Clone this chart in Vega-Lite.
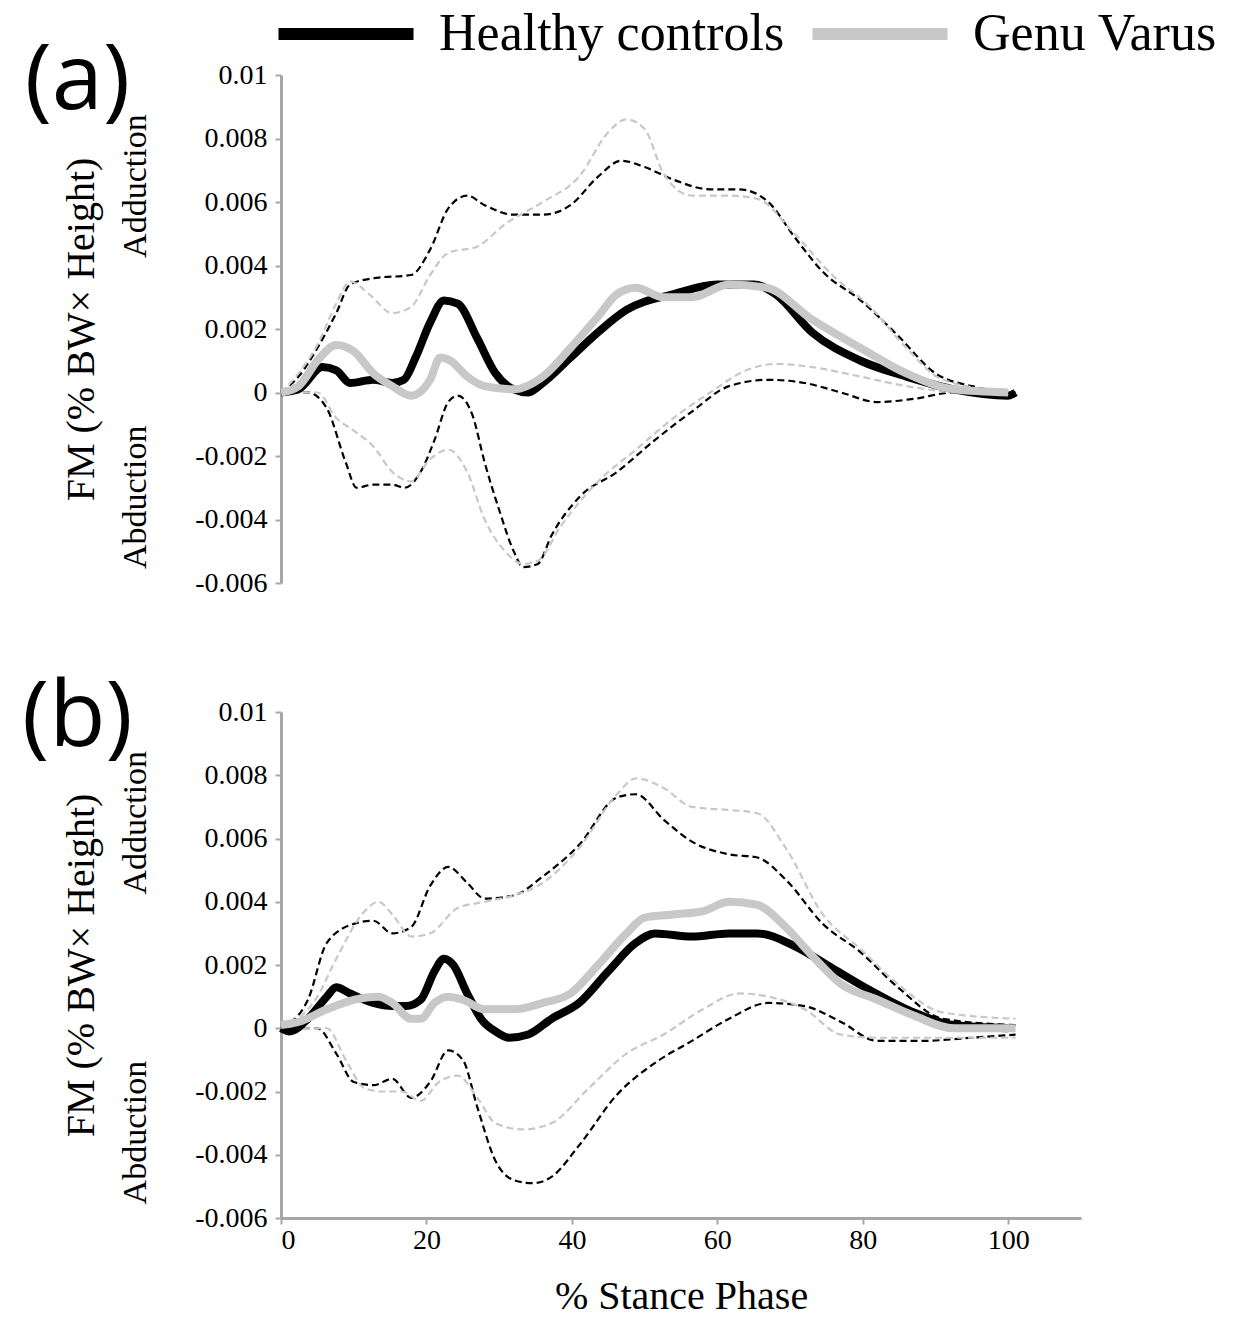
{
  "$schema": "https://vega.github.io/schema/vega-lite/v6.json",
  "padding": {"left": 22, "top": 8, "right": 5, "bottom": 5},
  "background": "white",
  "datasets": {
    "a": [
      {"g":"Healthy controls","s":"mean","x":0,"y":0},{"g":"Healthy controls","s":"mean","x":2.4,"y":0.0001},{"g":"Healthy controls","s":"mean","x":5.7,"y":0.0008},{"g":"Healthy controls","s":"mean","x":7.6,"y":0.0007},{"g":"Healthy controls","s":"mean","x":9.5,"y":0.0003},{"g":"Healthy controls","s":"mean","x":12.7,"y":0.0004},{"g":"Healthy controls","s":"mean","x":15.3,"y":0.0003},{"g":"Healthy controls","s":"mean","x":16.9,"y":0.0004},{"g":"Healthy controls","s":"mean","x":18.5,"y":0.0011},{"g":"Healthy controls","s":"mean","x":20.5,"y":0.0022},{"g":"Healthy controls","s":"mean","x":22.4,"y":0.0029},{"g":"Healthy controls","s":"mean","x":24.3,"y":0.0028},{"g":"Healthy controls","s":"mean","x":27,"y":0.0017},{"g":"Healthy controls","s":"mean","x":29.5,"y":0.0006},{"g":"Healthy controls","s":"mean","x":32,"y":0.0001},{"g":"Healthy controls","s":"mean","x":34,"y":0},{"g":"Healthy controls","s":"mean","x":36,"y":0.0003},{"g":"Healthy controls","s":"mean","x":39.8,"y":0.0011},{"g":"Healthy controls","s":"mean","x":43.6,"y":0.0019},{"g":"Healthy controls","s":"mean","x":47.5,"y":0.0026},{"g":"Healthy controls","s":"mean","x":54,"y":0.0031},{"g":"Healthy controls","s":"mean","x":60,"y":0.0034},{"g":"Healthy controls","s":"mean","x":65,"y":0.0034},{"g":"Healthy controls","s":"mean","x":68,"y":0.0031},{"g":"Healthy controls","s":"mean","x":73,"y":0.0019},{"g":"Healthy controls","s":"mean","x":79.7,"y":0.001},{"g":"Healthy controls","s":"mean","x":86,"y":0.0005},{"g":"Healthy controls","s":"mean","x":92.5,"y":0.0001},{"g":"Healthy controls","s":"mean","x":100,"y":-0.0001},{"g":"Healthy controls","s":"mean","x":101,"y":0},
      {"g":"Genu Varus","s":"mean","x":0,"y":0},{"g":"Genu Varus","s":"mean","x":2.4,"y":0.0002},{"g":"Genu Varus","s":"mean","x":5,"y":0.001},{"g":"Genu Varus","s":"mean","x":7.6,"y":0.0015},{"g":"Genu Varus","s":"mean","x":10,"y":0.0013},{"g":"Genu Varus","s":"mean","x":12.7,"y":0.0006},{"g":"Genu Varus","s":"mean","x":15.3,"y":0.0002},{"g":"Genu Varus","s":"mean","x":17.9,"y":-0.0001},{"g":"Genu Varus","s":"mean","x":20.5,"y":0.0004},{"g":"Genu Varus","s":"mean","x":21.9,"y":0.0011},{"g":"Genu Varus","s":"mean","x":23.3,"y":0.001},{"g":"Genu Varus","s":"mean","x":25.6,"y":0.0005},{"g":"Genu Varus","s":"mean","x":28,"y":0.0002},{"g":"Genu Varus","s":"mean","x":32,"y":0.0001},{"g":"Genu Varus","s":"mean","x":36,"y":0.0005},{"g":"Genu Varus","s":"mean","x":39.8,"y":0.0014},{"g":"Genu Varus","s":"mean","x":43.6,"y":0.0024},{"g":"Genu Varus","s":"mean","x":46.2,"y":0.0031},{"g":"Genu Varus","s":"mean","x":48.8,"y":0.0033},{"g":"Genu Varus","s":"mean","x":52.6,"y":0.003},{"g":"Genu Varus","s":"mean","x":56.5,"y":0.003},{"g":"Genu Varus","s":"mean","x":61.6,"y":0.0034},{"g":"Genu Varus","s":"mean","x":66.8,"y":0.0033},{"g":"Genu Varus","s":"mean","x":73,"y":0.0023},{"g":"Genu Varus","s":"mean","x":79.7,"y":0.0014},{"g":"Genu Varus","s":"mean","x":86,"y":0.0006},{"g":"Genu Varus","s":"mean","x":92.5,"y":0.0001},{"g":"Genu Varus","s":"mean","x":100,"y":0},
      {"g":"Healthy controls","s":"upper","x":0,"y":0},{"g":"Healthy controls","s":"upper","x":2.4,"y":0.0005},{"g":"Healthy controls","s":"upper","x":5,"y":0.0014},{"g":"Healthy controls","s":"upper","x":7.6,"y":0.0025},{"g":"Healthy controls","s":"upper","x":9.5,"y":0.0034},{"g":"Healthy controls","s":"upper","x":12.7,"y":0.0036},{"g":"Healthy controls","s":"upper","x":17.9,"y":0.0037},{"g":"Healthy controls","s":"upper","x":20.5,"y":0.0045},{"g":"Healthy controls","s":"upper","x":23,"y":0.0058},{"g":"Healthy controls","s":"upper","x":25.6,"y":0.0062},{"g":"Healthy controls","s":"upper","x":28,"y":0.0059},{"g":"Healthy controls","s":"upper","x":32,"y":0.0056},{"g":"Healthy controls","s":"upper","x":36,"y":0.0056},{"g":"Healthy controls","s":"upper","x":39.8,"y":0.0059},{"g":"Healthy controls","s":"upper","x":43.6,"y":0.0068},{"g":"Healthy controls","s":"upper","x":46.8,"y":0.0073},{"g":"Healthy controls","s":"upper","x":50,"y":0.0071},{"g":"Healthy controls","s":"upper","x":54,"y":0.0067},{"g":"Healthy controls","s":"upper","x":59,"y":0.0064},{"g":"Healthy controls","s":"upper","x":63,"y":0.0064},{"g":"Healthy controls","s":"upper","x":67,"y":0.006},{"g":"Healthy controls","s":"upper","x":70.6,"y":0.0049},{"g":"Healthy controls","s":"upper","x":74.5,"y":0.0038},{"g":"Healthy controls","s":"upper","x":79.7,"y":0.0029},{"g":"Healthy controls","s":"upper","x":84.8,"y":0.0018},{"g":"Healthy controls","s":"upper","x":90,"y":0.0006},{"g":"Healthy controls","s":"upper","x":95,"y":0.0002},{"g":"Healthy controls","s":"upper","x":101,"y":0},
      {"g":"Healthy controls","s":"lower","x":0,"y":0},{"g":"Healthy controls","s":"lower","x":3.7,"y":0},{"g":"Healthy controls","s":"lower","x":6.3,"y":-0.0005},{"g":"Healthy controls","s":"lower","x":8.9,"y":-0.0022},{"g":"Healthy controls","s":"lower","x":10.4,"y":-0.003},{"g":"Healthy controls","s":"lower","x":12.7,"y":-0.0029},{"g":"Healthy controls","s":"lower","x":15.3,"y":-0.0029},{"g":"Healthy controls","s":"lower","x":17,"y":-0.003},{"g":"Healthy controls","s":"lower","x":19.2,"y":-0.0025},{"g":"Healthy controls","s":"lower","x":21.1,"y":-0.0015},{"g":"Healthy controls","s":"lower","x":23,"y":-0.0003},{"g":"Healthy controls","s":"lower","x":24.3,"y":-0.0001},{"g":"Healthy controls","s":"lower","x":26.3,"y":-0.0007},{"g":"Healthy controls","s":"lower","x":28,"y":-0.0022},{"g":"Healthy controls","s":"lower","x":30,"y":-0.0037},{"g":"Healthy controls","s":"lower","x":32,"y":-0.005},{"g":"Healthy controls","s":"lower","x":33.3,"y":-0.0055},{"g":"Healthy controls","s":"lower","x":35.3,"y":-0.0054},{"g":"Healthy controls","s":"lower","x":37.2,"y":-0.0045},{"g":"Healthy controls","s":"lower","x":41,"y":-0.0033},{"g":"Healthy controls","s":"lower","x":46.2,"y":-0.0025},{"g":"Healthy controls","s":"lower","x":51.4,"y":-0.0015},{"g":"Healthy controls","s":"lower","x":56.5,"y":-0.0006},{"g":"Healthy controls","s":"lower","x":61.6,"y":0.0002},{"g":"Healthy controls","s":"lower","x":67,"y":0.0004},{"g":"Healthy controls","s":"lower","x":72,"y":0.0003},{"g":"Healthy controls","s":"lower","x":77,"y":0},{"g":"Healthy controls","s":"lower","x":82,"y":-0.0003},{"g":"Healthy controls","s":"lower","x":87,"y":-0.0002},{"g":"Healthy controls","s":"lower","x":92.5,"y":0},{"g":"Healthy controls","s":"lower","x":101,"y":-0.0002},
      {"g":"Genu Varus","s":"upper","x":0,"y":0},{"g":"Genu Varus","s":"upper","x":2.4,"y":0.0006},{"g":"Genu Varus","s":"upper","x":5,"y":0.0015},{"g":"Genu Varus","s":"upper","x":7.6,"y":0.0028},{"g":"Genu Varus","s":"upper","x":9.5,"y":0.0035},{"g":"Genu Varus","s":"upper","x":12.1,"y":0.0031},{"g":"Genu Varus","s":"upper","x":15.3,"y":0.0025},{"g":"Genu Varus","s":"upper","x":17.9,"y":0.0027},{"g":"Genu Varus","s":"upper","x":20.5,"y":0.0037},{"g":"Genu Varus","s":"upper","x":23,"y":0.0044},{"g":"Genu Varus","s":"upper","x":27,"y":0.0046},{"g":"Genu Varus","s":"upper","x":30.8,"y":0.0053},{"g":"Genu Varus","s":"upper","x":36,"y":0.006},{"g":"Genu Varus","s":"upper","x":41,"y":0.0068},{"g":"Genu Varus","s":"upper","x":45,"y":0.0082},{"g":"Genu Varus","s":"upper","x":47.5,"y":0.0086},{"g":"Genu Varus","s":"upper","x":50,"y":0.0083},{"g":"Genu Varus","s":"upper","x":52.6,"y":0.0069},{"g":"Genu Varus","s":"upper","x":56.5,"y":0.0062},{"g":"Genu Varus","s":"upper","x":61.6,"y":0.0062},{"g":"Genu Varus","s":"upper","x":65.5,"y":0.0061},{"g":"Genu Varus","s":"upper","x":70.6,"y":0.005},{"g":"Genu Varus","s":"upper","x":75.8,"y":0.0037},{"g":"Genu Varus","s":"upper","x":81,"y":0.0027},{"g":"Genu Varus","s":"upper","x":86,"y":0.0014},{"g":"Genu Varus","s":"upper","x":91,"y":0.0004},{"g":"Genu Varus","s":"upper","x":101,"y":0},
      {"g":"Genu Varus","s":"lower","x":0,"y":0},{"g":"Genu Varus","s":"lower","x":5,"y":0},{"g":"Genu Varus","s":"lower","x":7.6,"y":-0.0008},{"g":"Genu Varus","s":"lower","x":10,"y":-0.0012},{"g":"Genu Varus","s":"lower","x":12.7,"y":-0.0017},{"g":"Genu Varus","s":"lower","x":15.3,"y":-0.0025},{"g":"Genu Varus","s":"lower","x":17.9,"y":-0.0028},{"g":"Genu Varus","s":"lower","x":20.5,"y":-0.0021},{"g":"Genu Varus","s":"lower","x":23,"y":-0.0018},{"g":"Genu Varus","s":"lower","x":25.6,"y":-0.0025},{"g":"Genu Varus","s":"lower","x":28,"y":-0.004},{"g":"Genu Varus","s":"lower","x":30.8,"y":-0.005},{"g":"Genu Varus","s":"lower","x":33.3,"y":-0.0054},{"g":"Genu Varus","s":"lower","x":35.3,"y":-0.0053},{"g":"Genu Varus","s":"lower","x":38.5,"y":-0.0042},{"g":"Genu Varus","s":"lower","x":43.6,"y":-0.0028},{"g":"Genu Varus","s":"lower","x":48.8,"y":-0.0018},{"g":"Genu Varus","s":"lower","x":54,"y":-0.0008},{"g":"Genu Varus","s":"lower","x":59,"y":0},{"g":"Genu Varus","s":"lower","x":64,"y":0.0007},{"g":"Genu Varus","s":"lower","x":68,"y":0.0009},{"g":"Genu Varus","s":"lower","x":73,"y":0.0008},{"g":"Genu Varus","s":"lower","x":79.7,"y":0.0005},{"g":"Genu Varus","s":"lower","x":86,"y":0.0002},{"g":"Genu Varus","s":"lower","x":92.5,"y":0},{"g":"Genu Varus","s":"lower","x":101,"y":-0.0001}
    ],
    "b": [
      {"g":"Healthy controls","s":"mean","x":0,"y":0},{"g":"Healthy controls","s":"mean","x":1.2,"y":-0.0001},{"g":"Healthy controls","s":"mean","x":3.7,"y":0.0003},{"g":"Healthy controls","s":"mean","x":6.3,"y":0.001},{"g":"Healthy controls","s":"mean","x":7.6,"y":0.0013},{"g":"Healthy controls","s":"mean","x":9.5,"y":0.0011},{"g":"Healthy controls","s":"mean","x":12.7,"y":0.0008},{"g":"Healthy controls","s":"mean","x":15.3,"y":0.0007},{"g":"Healthy controls","s":"mean","x":17.2,"y":0.0007},{"g":"Healthy controls","s":"mean","x":19.2,"y":0.0009},{"g":"Healthy controls","s":"mean","x":21.1,"y":0.0018},{"g":"Healthy controls","s":"mean","x":22.4,"y":0.0022},{"g":"Healthy controls","s":"mean","x":23.7,"y":0.002},{"g":"Healthy controls","s":"mean","x":25.6,"y":0.0011},{"g":"Healthy controls","s":"mean","x":27.5,"y":0.0003},{"g":"Healthy controls","s":"mean","x":29.5,"y":-0.0001},{"g":"Healthy controls","s":"mean","x":31.4,"y":-0.0003},{"g":"Healthy controls","s":"mean","x":34,"y":-0.0002},{"g":"Healthy controls","s":"mean","x":37.2,"y":0.0003},{"g":"Healthy controls","s":"mean","x":41,"y":0.0008},{"g":"Healthy controls","s":"mean","x":45,"y":0.0018},{"g":"Healthy controls","s":"mean","x":48.8,"y":0.0027},{"g":"Healthy controls","s":"mean","x":51.4,"y":0.003},{"g":"Healthy controls","s":"mean","x":56.5,"y":0.0029},{"g":"Healthy controls","s":"mean","x":61.6,"y":0.003},{"g":"Healthy controls","s":"mean","x":65.5,"y":0.003},{"g":"Healthy controls","s":"mean","x":70.6,"y":0.0026},{"g":"Healthy controls","s":"mean","x":75.8,"y":0.0019},{"g":"Healthy controls","s":"mean","x":81,"y":0.0012},{"g":"Healthy controls","s":"mean","x":87,"y":0.0005},{"g":"Healthy controls","s":"mean","x":92.5,"y":0.0001},{"g":"Healthy controls","s":"mean","x":100,"y":0},
      {"g":"Genu Varus","s":"mean","x":0,"y":0.0001},{"g":"Genu Varus","s":"mean","x":2.4,"y":0.0002},{"g":"Genu Varus","s":"mean","x":6.3,"y":0.0006},{"g":"Genu Varus","s":"mean","x":10,"y":0.0009},{"g":"Genu Varus","s":"mean","x":13.4,"y":0.001},{"g":"Genu Varus","s":"mean","x":15.3,"y":0.0008},{"g":"Genu Varus","s":"mean","x":17.9,"y":0.0003},{"g":"Genu Varus","s":"mean","x":19.2,"y":0.0003},{"g":"Genu Varus","s":"mean","x":21.1,"y":0.0008},{"g":"Genu Varus","s":"mean","x":23,"y":0.001},{"g":"Genu Varus","s":"mean","x":25,"y":0.0009},{"g":"Genu Varus","s":"mean","x":28,"y":0.0006},{"g":"Genu Varus","s":"mean","x":32,"y":0.0006},{"g":"Genu Varus","s":"mean","x":36,"y":0.0008},{"g":"Genu Varus","s":"mean","x":39.8,"y":0.0011},{"g":"Genu Varus","s":"mean","x":43.6,"y":0.002},{"g":"Genu Varus","s":"mean","x":47.5,"y":0.003},{"g":"Genu Varus","s":"mean","x":50,"y":0.0035},{"g":"Genu Varus","s":"mean","x":54,"y":0.0036},{"g":"Genu Varus","s":"mean","x":58,"y":0.0037},{"g":"Genu Varus","s":"mean","x":61.6,"y":0.004},{"g":"Genu Varus","s":"mean","x":65.5,"y":0.0039},{"g":"Genu Varus","s":"mean","x":69.4,"y":0.0032},{"g":"Genu Varus","s":"mean","x":73,"y":0.0023},{"g":"Genu Varus","s":"mean","x":77,"y":0.0014},{"g":"Genu Varus","s":"mean","x":82,"y":0.0009},{"g":"Genu Varus","s":"mean","x":87,"y":0.0004},{"g":"Genu Varus","s":"mean","x":92.5,"y":0},{"g":"Genu Varus","s":"mean","x":101,"y":0},
      {"g":"Healthy controls","s":"upper","x":0,"y":0},{"g":"Healthy controls","s":"upper","x":3.7,"y":0.0009},{"g":"Healthy controls","s":"upper","x":6.3,"y":0.0027},{"g":"Healthy controls","s":"upper","x":10,"y":0.0033},{"g":"Healthy controls","s":"upper","x":12.7,"y":0.0034},{"g":"Healthy controls","s":"upper","x":15.3,"y":0.003},{"g":"Healthy controls","s":"upper","x":17.9,"y":0.0032},{"g":"Healthy controls","s":"upper","x":20.5,"y":0.0045},{"g":"Healthy controls","s":"upper","x":23,"y":0.0051},{"g":"Healthy controls","s":"upper","x":25.6,"y":0.0046},{"g":"Healthy controls","s":"upper","x":28,"y":0.0041},{"g":"Healthy controls","s":"upper","x":32,"y":0.0042},{"g":"Healthy controls","s":"upper","x":36,"y":0.0048},{"g":"Healthy controls","s":"upper","x":41,"y":0.0058},{"g":"Healthy controls","s":"upper","x":46.2,"y":0.0073},{"g":"Healthy controls","s":"upper","x":48.8,"y":0.0074},{"g":"Healthy controls","s":"upper","x":52.6,"y":0.0066},{"g":"Healthy controls","s":"upper","x":56.5,"y":0.0059},{"g":"Healthy controls","s":"upper","x":61.6,"y":0.0055},{"g":"Healthy controls","s":"upper","x":65.5,"y":0.0054},{"g":"Healthy controls","s":"upper","x":69.4,"y":0.0047},{"g":"Healthy controls","s":"upper","x":74.5,"y":0.0033},{"g":"Healthy controls","s":"upper","x":79.7,"y":0.0024},{"g":"Healthy controls","s":"upper","x":84.8,"y":0.0013},{"g":"Healthy controls","s":"upper","x":91,"y":0.0003},{"g":"Healthy controls","s":"upper","x":101,"y":0.0001},
      {"g":"Healthy controls","s":"lower","x":0,"y":0},{"g":"Healthy controls","s":"lower","x":5,"y":0},{"g":"Healthy controls","s":"lower","x":7.6,"y":-0.0008},{"g":"Healthy controls","s":"lower","x":10,"y":-0.0017},{"g":"Healthy controls","s":"lower","x":12.7,"y":-0.0018},{"g":"Healthy controls","s":"lower","x":15.3,"y":-0.0016},{"g":"Healthy controls","s":"lower","x":17.9,"y":-0.0022},{"g":"Healthy controls","s":"lower","x":20.5,"y":-0.0017},{"g":"Healthy controls","s":"lower","x":23,"y":-0.0007},{"g":"Healthy controls","s":"lower","x":25,"y":-0.001},{"g":"Healthy controls","s":"lower","x":27,"y":-0.0025},{"g":"Healthy controls","s":"lower","x":29.5,"y":-0.0042},{"g":"Healthy controls","s":"lower","x":32,"y":-0.0048},{"g":"Healthy controls","s":"lower","x":34.6,"y":-0.0049},{"g":"Healthy controls","s":"lower","x":37.2,"y":-0.0047},{"g":"Healthy controls","s":"lower","x":41,"y":-0.0037},{"g":"Healthy controls","s":"lower","x":46.2,"y":-0.0021},{"g":"Healthy controls","s":"lower","x":51.4,"y":-0.0011},{"g":"Healthy controls","s":"lower","x":56.5,"y":-0.0004},{"g":"Healthy controls","s":"lower","x":61.6,"y":0.0003},{"g":"Healthy controls","s":"lower","x":67,"y":0.0008},{"g":"Healthy controls","s":"lower","x":72,"y":0.0007},{"g":"Healthy controls","s":"lower","x":77,"y":0.0002},{"g":"Healthy controls","s":"lower","x":82,"y":-0.0004},{"g":"Healthy controls","s":"lower","x":88,"y":-0.0004},{"g":"Healthy controls","s":"lower","x":95,"y":-0.0003},{"g":"Healthy controls","s":"lower","x":101,"y":-0.0002},
      {"g":"Genu Varus","s":"upper","x":0,"y":0},{"g":"Genu Varus","s":"upper","x":5,"y":0.001},{"g":"Genu Varus","s":"upper","x":7.6,"y":0.0022},{"g":"Genu Varus","s":"upper","x":11.5,"y":0.0037},{"g":"Genu Varus","s":"upper","x":13.4,"y":0.004},{"g":"Genu Varus","s":"upper","x":15.3,"y":0.0036},{"g":"Genu Varus","s":"upper","x":17.9,"y":0.0029},{"g":"Genu Varus","s":"upper","x":20.5,"y":0.003},{"g":"Genu Varus","s":"upper","x":24.3,"y":0.0038},{"g":"Genu Varus","s":"upper","x":28,"y":0.004},{"g":"Genu Varus","s":"upper","x":32,"y":0.0042},{"g":"Genu Varus","s":"upper","x":36,"y":0.0046},{"g":"Genu Varus","s":"upper","x":41,"y":0.0057},{"g":"Genu Varus","s":"upper","x":46.2,"y":0.0074},{"g":"Genu Varus","s":"upper","x":48.8,"y":0.0079},{"g":"Genu Varus","s":"upper","x":52.6,"y":0.0076},{"g":"Genu Varus","s":"upper","x":56.5,"y":0.007},{"g":"Genu Varus","s":"upper","x":61.6,"y":0.0069},{"g":"Genu Varus","s":"upper","x":65.5,"y":0.0068},{"g":"Genu Varus","s":"upper","x":69.4,"y":0.0057},{"g":"Genu Varus","s":"upper","x":74.5,"y":0.0036},{"g":"Genu Varus","s":"upper","x":79.7,"y":0.0025},{"g":"Genu Varus","s":"upper","x":84.8,"y":0.0014},{"g":"Genu Varus","s":"upper","x":91,"y":0.0005},{"g":"Genu Varus","s":"upper","x":101,"y":0.0003},
      {"g":"Genu Varus","s":"lower","x":0,"y":0},{"g":"Genu Varus","s":"lower","x":6.3,"y":0},{"g":"Genu Varus","s":"lower","x":8.9,"y":-0.001},{"g":"Genu Varus","s":"lower","x":11.5,"y":-0.0019},{"g":"Genu Varus","s":"lower","x":14,"y":-0.002},{"g":"Genu Varus","s":"lower","x":16.6,"y":-0.002},{"g":"Genu Varus","s":"lower","x":19.2,"y":-0.0023},{"g":"Genu Varus","s":"lower","x":21.7,"y":-0.0017},{"g":"Genu Varus","s":"lower","x":24.3,"y":-0.0015},{"g":"Genu Varus","s":"lower","x":27,"y":-0.0022},{"g":"Genu Varus","s":"lower","x":29.5,"y":-0.003},{"g":"Genu Varus","s":"lower","x":33.3,"y":-0.0032},{"g":"Genu Varus","s":"lower","x":37.2,"y":-0.003},{"g":"Genu Varus","s":"lower","x":42.3,"y":-0.0019},{"g":"Genu Varus","s":"lower","x":47.5,"y":-0.0008},{"g":"Genu Varus","s":"lower","x":52.6,"y":-0.0002},{"g":"Genu Varus","s":"lower","x":58,"y":0.0006},{"g":"Genu Varus","s":"lower","x":63,"y":0.0011},{"g":"Genu Varus","s":"lower","x":67,"y":0.001},{"g":"Genu Varus","s":"lower","x":72,"y":0.0006},{"g":"Genu Varus","s":"lower","x":77,"y":-0.0002},{"g":"Genu Varus","s":"lower","x":82,"y":-0.0003},{"g":"Genu Varus","s":"lower","x":90,"y":-0.0003},{"g":"Genu Varus","s":"lower","x":101,"y":-0.0003}
    ],
    "side": [
      {"x": -20, "y": 0.0065, "t": "Adduction"},
      {"x": -20, "y": -0.0033, "t": "Abduction"}
    ]
  },
  "spacing": 75,
  "vconcat": [
    {
      "width": 800,
      "height": 508,
      "layer": [
        {"mark": {"type": "rule", "color": "#a6a6a6", "strokeWidth": 3}, "encoding": {"y": {"datum": 0, "type": "quantitative"}}},
        {
          "data": {"name": "a"},
          "transform": [{"filter": "datum.s != 'mean'"}],
          "mark": {"type": "line", "interpolate": "monotone", "strokeDash": [7, 4], "strokeWidth": 2.2},
          "encoding": {
            "x": {"field": "x", "type": "quantitative", "scale": {"domain": [0, 103]}, "axis": null},
            "y": {"field": "y", "type": "quantitative"},
            "color": {"field": "g", "type": "nominal"},
            "detail": {"field": "s"}
          }
        },
        {
          "data": {"name": "a"},
          "transform": [{"filter": "datum.s == 'mean'"}],
          "mark": {"type": "line", "interpolate": "monotone", "strokeWidth": 8},
          "encoding": {
            "x": {"field": "x", "type": "quantitative", "scale": {"domain": [0, 103]}, "axis": null},
            "y": {"field": "y", "type": "quantitative", "scale": {"domain": [-0.006, 0.01]}, "title": "FM (% BW× Height)",
              "axis": {"values": [-0.006, -0.004, -0.002, 0, 0.002, 0.004, 0.006, 0.008, 0.01], "format": "~g", "labelExpr": "replace(datum.label, '−', '-')"}},
            "color": {"field": "g", "type": "nominal", "scale": {"domain": ["Healthy controls", "Genu Varus"], "range": ["#000000", "#c8c8c8"]},
              "legend": {"orient": "none", "legendX": 39, "legendY": -67}}
          }
        },
        {
          "data": {"name": "side"},
          "mark": {"type": "text", "align": "center", "baseline": "middle", "angle": 270, "fontSize": 34, "font": "Liberation Serif"},
          "encoding": {"x": {"field": "x", "type": "quantitative"}, "y": {"field": "y", "type": "quantitative"}, "text": {"field": "t"}}
        },
        {
          "data": {"values": [{"x": -28, "y": 0.0098, "t": "(a)"}]},
          "mark": {"type": "text", "align": "center", "baseline": "middle", "fontSize": 92, "font": "Open Sans"},
          "encoding": {"x": {"field": "x", "type": "quantitative"}, "y": {"field": "y", "type": "quantitative"}, "text": {"field": "t"}}
        }
      ]
    },
    {
      "width": 800,
      "height": 506,
      "layer": [
        {"mark": {"type": "rule", "color": "#a6a6a6", "strokeWidth": 3}, "encoding": {"y": {"datum": 0, "type": "quantitative"}}},
        {
          "data": {"name": "b"},
          "transform": [{"filter": "datum.s != 'mean'"}],
          "mark": {"type": "line", "interpolate": "monotone", "strokeDash": [7, 4], "strokeWidth": 2.2},
          "encoding": {
            "x": {"field": "x", "type": "quantitative", "scale": {"domain": [0, 103]}},
            "y": {"field": "y", "type": "quantitative"},
            "color": {"field": "g", "type": "nominal"},
            "detail": {"field": "s"}
          }
        },
        {
          "data": {"name": "b"},
          "transform": [{"filter": "datum.s == 'mean'"}],
          "mark": {"type": "line", "interpolate": "monotone", "strokeWidth": 8},
          "encoding": {
            "x": {"field": "x", "type": "quantitative", "scale": {"domain": [0, 103]}, "title": "% Stance Phase",
              "axis": {"values": [0, 20, 40, 60, 80, 100]}},
            "y": {"field": "y", "type": "quantitative", "scale": {"domain": [-0.006, 0.01]}, "title": "FM (% BW× Height)",
              "axis": {"values": [-0.006, -0.004, -0.002, 0, 0.002, 0.004, 0.006, 0.008, 0.01], "format": "~g", "labelExpr": "replace(datum.label, '−', '-')"}},
            "color": {"field": "g", "type": "nominal"}
          }
        },
        {
          "data": {"name": "side"},
          "mark": {"type": "text", "align": "center", "baseline": "middle", "angle": 270, "fontSize": 34, "font": "Liberation Serif"},
          "encoding": {"x": {"field": "x", "type": "quantitative"}, "y": {"field": "y", "type": "quantitative"}, "text": {"field": "t"}}
        },
        {
          "data": {"values": [{"x": -28, "y": 0.0098, "t": "(b)"}]},
          "mark": {"type": "text", "align": "center", "baseline": "middle", "fontSize": 92, "font": "Open Sans"},
          "encoding": {"x": {"field": "x", "type": "quantitative"}, "y": {"field": "y", "type": "quantitative"}, "text": {"field": "t"}}
        }
      ]
    }
  ],
  "resolve": {"scale": {"color": "shared"}},
  "config": {
    "view": {"stroke": null},
    "font": "Liberation Serif",
    "mark": {"clip": false},
    "axis": {
      "grid": false, "domainColor": "#a6a6a6", "domainWidth": 3, "tickColor": "#a6a6a6", "tickWidth": 2, "tickSize": 6,
      "labelFont": "Liberation Serif", "labelFontSize": 28, "labelColor": "#000",
      "titleFont": "Liberation Serif", "titleFontSize": 40, "titleFontWeight": "normal", "titleColor": "#000"
    },
    "axisY": {"titlePadding": 93, "labelPadding": 8},
    "axisX": {"titlePadding": 22},
    "legend": {
      "direction": "horizontal", "title": null, "labelLimit": 0,
      "symbolType": "M-4.5,0L4.5,0", "symbolSize": 900, "symbolStrokeWidth": 12, "labelOffset": 67,
      "labelFontSize": 52, "labelFont": "Liberation Serif", "labelColor": "#000", "columnPadding": 3
    }
  }
}
